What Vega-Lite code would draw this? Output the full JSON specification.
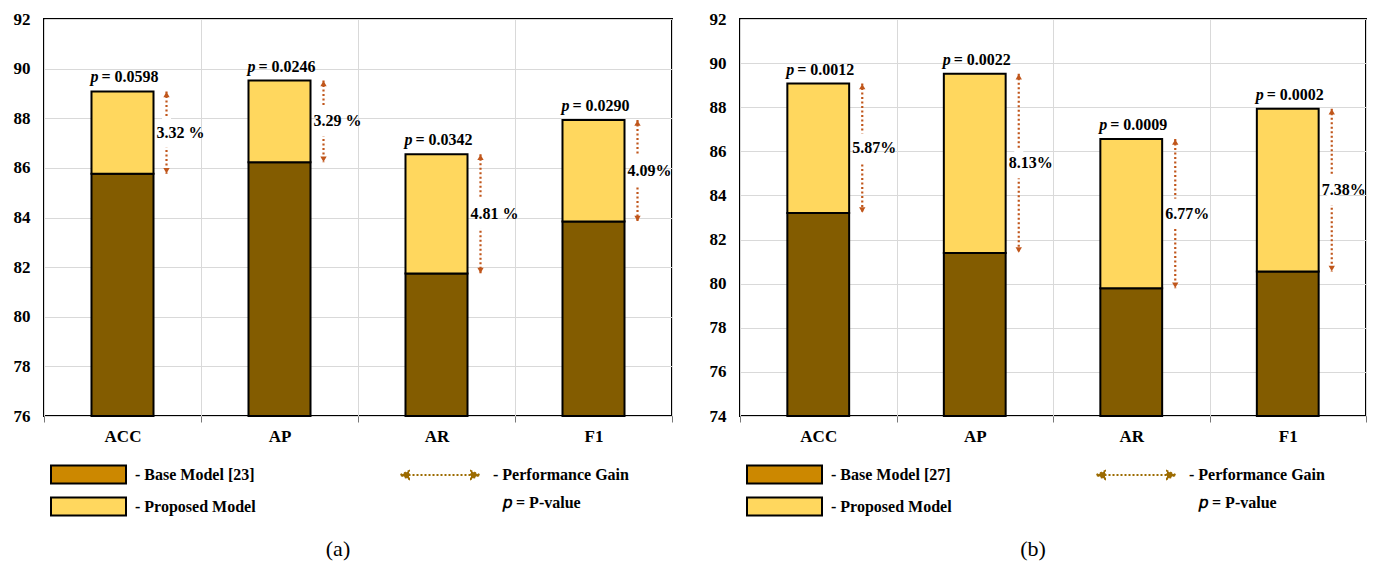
{
  "$schema": "https://vega.github.io/schema/vega-lite/v6.json",
  "background": "white",
  "padding": {"left": 12, "top": 9, "right": 0, "bottom": 0},
  "spacing": 34,
  "config": {
    "font": "Liberation Serif",
    "view": {"stroke": "black", "strokeWidth": 2},
    "axis": {"labelFont": "Liberation Serif", "labelFontWeight": "bold", "labelFontSize": 17, "labelColor": "black", "title": null, "domain": false, "gridColor": "#D9D9D9", "gridWidth": 1},
    "axisY": {"ticks": false, "labelPadding": 14},
    "axisX": {"tickBand": "extent", "grid": true, "ticks": true, "tickColor": "#777", "tickSize": 6, "labelPadding": 6, "labelAngle": 0},
    "legend": {"labelFont": "Liberation Serif", "labelFontWeight": "bold", "labelFontSize": 16, "labelColor": "black", "labelLimit": 400, "title": null},
    "title": {"font": "Liberation Serif", "fontSize": 22, "fontWeight": "normal", "color": "black"}
  },
  "resolve": {
    "scale": {"x": "independent", "y": "independent", "fill": "independent", "stroke": "independent"},
    "legend": {"fill": "independent", "stroke": "independent"}
  },
  "hconcat": [
    {
      "width": 628,
      "height": 397,
      "title": {"text": "(a)", "orient": "bottom", "anchor": "middle", "dx": -20, "offset": 19},
      "data": {"values": [
        {"metric": "ACC", "base": 85.76, "prop": 89.08, "plabel": "= 0.0598", "gain": "3.32 %"},
        {"metric": "AP", "base": 86.23, "prop": 89.52, "plabel": "= 0.0246", "gain": "3.29 %"},
        {"metric": "AR", "base": 81.74, "prop": 86.55, "plabel": "= 0.0342", "gain": "4.81 %"},
        {"metric": "F1", "base": 83.84, "prop": 87.93, "plabel": "= 0.0290", "gain": "4.09%"}
      ]},
      "transform": [{"calculate": "(datum.prop + datum.base) / 2", "as": "mid"}],
      "encoding": {
        "x": {"field": "metric", "type": "nominal", "sort": null, "scale": {"paddingInner": 0, "paddingOuter": 0}}
      },
      "layer": [
        {
          "mark": {"type": "bar", "width": {"band": 0.395}, "stroke": "black", "strokeWidth": 2, "fill": "#835C00"},
          "encoding": {
            "y": {"field": "base", "type": "quantitative", "scale": {"domain": [76, 92], "nice": false, "zero": false}, "axis": {"values": [76, 78, 80, 82, 84, 86, 88, 90, 92]}},
            "y2": {"datum": 76}
          }
        },
        {
          "mark": {"type": "bar", "width": {"band": 0.395}, "stroke": "black", "strokeWidth": 2, "fill": "#FFD75E"},
          "encoding": {
            "y": {"field": "prop", "type": "quantitative"},
            "y2": {"field": "base"}
          }
        },
        {
          "transform": [{"filter": "false"}],
          "mark": {"type": "bar"},
          "encoding": {
            "y": {"field": "prop", "type": "quantitative"},
            "fill": {"datum": "- Base Model [23]", "type": "nominal",
              "scale": {"domain": ["- Base Model [23]", "- Proposed Model"], "range": ["#CC8800", "#FFD75E"]},
              "legend": {"orient": "none", "legendX": 36, "legendY": 447, "direction": "vertical",
                "symbolType": "M-5,-1.2H5V1.2H-5Z", "symbolSize": 225, "symbolStrokeWidth": 2, "symbolStrokeColor": "black",
                "labelOffset": 38, "rowPadding": 5,
                "encode": {"symbols": {"update": {"stroke": {"value": "black"}, "strokeWidth": {"value": 2}, "opacity": {"value": 1}}}}}}
          }
        },
        {
          "mark": {"type": "rule", "xOffset": 44, "strokeDash": [2, 2.5], "strokeWidth": 2.2, "stroke": "#C0561B"},
          "encoding": {
            "y": {"field": "prop", "type": "quantitative"},
            "y2": {"field": "base"}
          }
        },
        {
          "transform": [{"filter": "false"}],
          "mark": {"type": "rule"},
          "encoding": {
            "y": {"field": "prop", "type": "quantitative"},
            "stroke": {"datum": "- Performance Gain", "type": "nominal",
              "scale": {"domain": ["- Performance Gain", "𝑝 = P-value"], "range": ["#9C6B00", "#9C6B00"]},
              "legend": {"orient": "none", "legendX": 388, "legendY": 448, "direction": "vertical",
                "symbolType": "M-6.3,0H6.3M-7.9,0L-6.2,-0.8L-6.2,0.8ZM7.9,0L6.2,-0.8L6.2,0.8Z", "symbolSize": 100, "symbolStrokeWidth": 2, "symbolDash": [2, 2],
                "labelOffset": 45, "rowPadding": 12,
                "encode": {"symbols": {"update": {"fill": {"value": "#9C6B00"}, "opacity": {"signal": "datum.index === 0 ? 1 : 0"}}},
                           "labels": {"update": {"dx": {"signal": "datum.index === 0 ? 0 : 10"}}}}}}
          }
        },
        {
          "mark": {"type": "point", "shape": "triangle-up", "filled": true, "size": 40, "xOffset": 44, "yOffset": 3, "color": "#C0561B", "opacity": 1},
          "encoding": {"y": {"field": "prop", "type": "quantitative"}}
        },
        {
          "mark": {"type": "point", "shape": "triangle-down", "filled": true, "size": 40, "xOffset": 44, "yOffset": -3, "color": "#C0561B", "opacity": 1},
          "encoding": {"y": {"field": "base", "type": "quantitative"}}
        },
        {
          "mark": {"type": "point", "shape": "M-0.3,-1H0.3V1H-0.3Z", "filled": true, "size": 900, "xOffset": 44, "color": "white", "opacity": 1, "strokeWidth": 0},
          "encoding": {"y": {"field": "mid", "type": "quantitative"}}
        },
        {
          "mark": {"type": "text", "align": "left", "baseline": "middle", "dx": 34, "fontWeight": "bold", "fontSize": 16, "color": "black"},
          "encoding": {"y": {"field": "mid", "type": "quantitative"}, "text": {"field": "gain"}}
        },
        {
          "mark": {"type": "text", "align": "left", "baseline": "alphabetic", "dx": -32, "dy": -9, "fontStyle": "italic", "fontWeight": "bold", "fontSize": 16, "color": "black"},
          "encoding": {"y": {"field": "prop", "type": "quantitative"}, "text": {"value": "p"}}
        },
        {
          "mark": {"type": "text", "align": "left", "baseline": "alphabetic", "dx": -21, "dy": -9, "fontWeight": "bold", "fontSize": 16, "color": "black"},
          "encoding": {"y": {"field": "prop", "type": "quantitative"}, "text": {"field": "plabel"}}
        }
      ]
    },
    {
      "width": 626,
      "height": 397,
      "title": {"text": "(b)", "orient": "bottom", "anchor": "middle", "dx": -20, "offset": 19},
      "data": {"values": [
        {"metric": "ACC", "base": 83.20, "prop": 89.07, "plabel": "= 0.0012", "gain": "5.87%"},
        {"metric": "AP", "base": 81.39, "prop": 89.52, "plabel": "= 0.0022", "gain": "8.13%"},
        {"metric": "AR", "base": 79.79, "prop": 86.56, "plabel": "= 0.0009", "gain": "6.77%"},
        {"metric": "F1", "base": 80.55, "prop": 87.93, "plabel": "= 0.0002", "gain": "7.38%"}
      ]},
      "transform": [{"calculate": "(datum.prop + datum.base) / 2", "as": "mid"}],
      "encoding": {
        "x": {"field": "metric", "type": "nominal", "sort": null, "scale": {"paddingInner": 0, "paddingOuter": 0}}
      },
      "layer": [
        {
          "mark": {"type": "bar", "width": {"band": 0.395}, "stroke": "black", "strokeWidth": 2, "fill": "#835C00"},
          "encoding": {
            "y": {"field": "base", "type": "quantitative", "scale": {"domain": [74, 92], "nice": false, "zero": false}, "axis": {"values": [74, 76, 78, 80, 82, 84, 86, 88, 90, 92]}},
            "y2": {"datum": 74}
          }
        },
        {
          "mark": {"type": "bar", "width": {"band": 0.395}, "stroke": "black", "strokeWidth": 2, "fill": "#FFD75E"},
          "encoding": {
            "y": {"field": "prop", "type": "quantitative"},
            "y2": {"field": "base"}
          }
        },
        {
          "transform": [{"filter": "false"}],
          "mark": {"type": "bar"},
          "encoding": {
            "y": {"field": "prop", "type": "quantitative"},
            "fill": {"datum": "- Base Model [27]", "type": "nominal",
              "scale": {"domain": ["- Base Model [27]", "- Proposed Model"], "range": ["#CC8800", "#FFD75E"]},
              "legend": {"orient": "none", "legendX": 36, "legendY": 447, "direction": "vertical",
                "symbolType": "M-5,-1.2H5V1.2H-5Z", "symbolSize": 225, "symbolStrokeWidth": 2, "symbolStrokeColor": "black",
                "labelOffset": 38, "rowPadding": 5,
                "encode": {"symbols": {"update": {"stroke": {"value": "black"}, "strokeWidth": {"value": 2}, "opacity": {"value": 1}}}}}}
          }
        },
        {
          "mark": {"type": "rule", "xOffset": 44, "strokeDash": [2, 2.5], "strokeWidth": 2.2, "stroke": "#C0561B"},
          "encoding": {
            "y": {"field": "prop", "type": "quantitative"},
            "y2": {"field": "base"}
          }
        },
        {
          "transform": [{"filter": "false"}],
          "mark": {"type": "rule"},
          "encoding": {
            "y": {"field": "prop", "type": "quantitative"},
            "stroke": {"datum": "- Performance Gain", "type": "nominal",
              "scale": {"domain": ["- Performance Gain", "𝑝 = P-value"], "range": ["#9C6B00", "#9C6B00"]},
              "legend": {"orient": "none", "legendX": 388, "legendY": 448, "direction": "vertical",
                "symbolType": "M-6.3,0H6.3M-7.9,0L-6.2,-0.8L-6.2,0.8ZM7.9,0L6.2,-0.8L6.2,0.8Z", "symbolSize": 100, "symbolStrokeWidth": 2, "symbolDash": [2, 2],
                "labelOffset": 45, "rowPadding": 12,
                "encode": {"symbols": {"update": {"fill": {"value": "#9C6B00"}, "opacity": {"signal": "datum.index === 0 ? 1 : 0"}}},
                           "labels": {"update": {"dx": {"signal": "datum.index === 0 ? 0 : 10"}}}}}}
          }
        },
        {
          "mark": {"type": "point", "shape": "triangle-up", "filled": true, "size": 40, "xOffset": 44, "yOffset": 3, "color": "#C0561B", "opacity": 1},
          "encoding": {"y": {"field": "prop", "type": "quantitative"}}
        },
        {
          "mark": {"type": "point", "shape": "triangle-down", "filled": true, "size": 40, "xOffset": 44, "yOffset": -3, "color": "#C0561B", "opacity": 1},
          "encoding": {"y": {"field": "base", "type": "quantitative"}}
        },
        {
          "mark": {"type": "point", "shape": "M-0.3,-1H0.3V1H-0.3Z", "filled": true, "size": 900, "xOffset": 44, "color": "white", "opacity": 1, "strokeWidth": 0},
          "encoding": {"y": {"field": "mid", "type": "quantitative"}}
        },
        {
          "mark": {"type": "text", "align": "left", "baseline": "middle", "dx": 34, "fontWeight": "bold", "fontSize": 16, "color": "black"},
          "encoding": {"y": {"field": "mid", "type": "quantitative"}, "text": {"field": "gain"}}
        },
        {
          "mark": {"type": "text", "align": "left", "baseline": "alphabetic", "dx": -32, "dy": -9, "fontStyle": "italic", "fontWeight": "bold", "fontSize": 16, "color": "black"},
          "encoding": {"y": {"field": "prop", "type": "quantitative"}, "text": {"value": "p"}}
        },
        {
          "mark": {"type": "text", "align": "left", "baseline": "alphabetic", "dx": -21, "dy": -9, "fontWeight": "bold", "fontSize": 16, "color": "black"},
          "encoding": {"y": {"field": "prop", "type": "quantitative"}, "text": {"field": "plabel"}}
        }
      ]
    }
  ]
}
